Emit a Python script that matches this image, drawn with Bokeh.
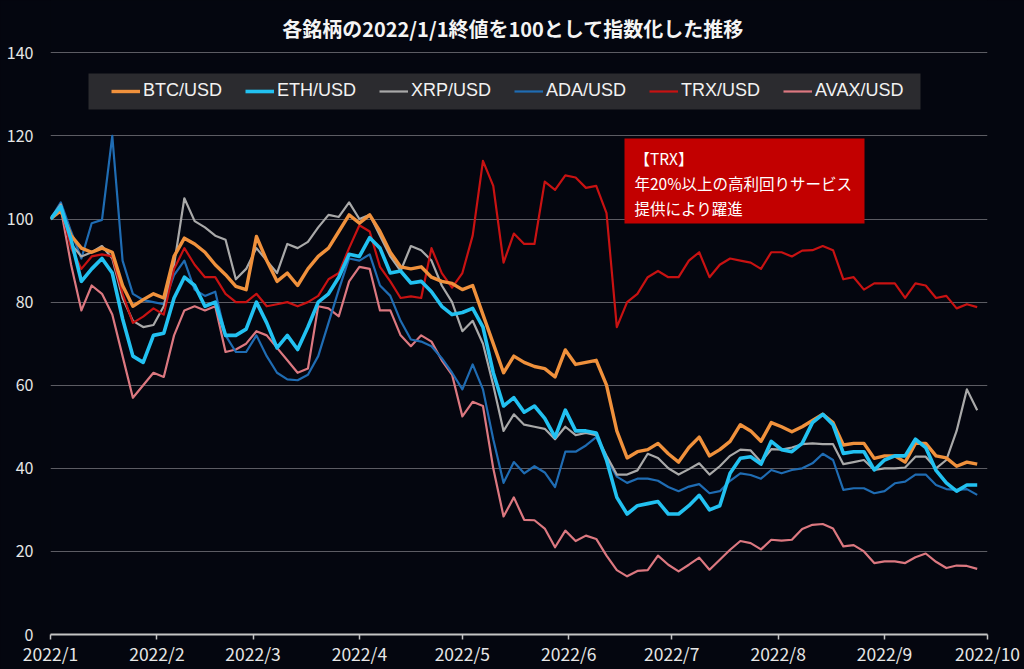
from datetime import datetime, timedelta

from bokeh.plotting import figure
from bokeh.models import (Range1d, FixedTicker, Legend, LegendItem, Label,
                          BoxAnnotation, GlobalInlineStyleSheet)
from bokeh.embed import file_html
from bokeh.resources import INLINE

# ---------------- data ----------------
start_date = datetime(2022, 1, 1)
end_date = datetime(2022, 10, 1)
step_days = 3
n_points = 91
dates = [start_date + timedelta(days=step_days * i) for i in range(n_points)]

btc = [100, 102, 96, 93, 92, 93, 92, 84, 79, 80.6,
       82, 81, 91, 95.4, 94, 92, 89, 86.6, 83.8, 83,
       95.8, 90, 85, 87, 84, 88, 91, 93, 97, 101,
       99, 101, 97, 92, 88.5, 88, 88.5, 86, 85, 84.5,
       83, 84, 77, 70, 63, 67, 65.5, 64.5, 64, 62,
       68.5, 65, 65.5, 66, 60, 49, 42.5, 44, 44.5, 46,
       43.5, 41.5, 45, 47.5, 43, 44.5, 46.5, 50.5, 49, 46.5,
       51, 50, 48.8, 50, 51.5, 53, 51, 45.6, 46, 46,
       42.4, 43, 43, 41.5, 46, 46, 43, 42.5, 40.5, 41.5,
       41]

eth = [100, 103, 95, 85, 88, 90.5, 87, 76, 67, 65.5,
       72, 72.5, 81, 86, 84, 79, 80, 72, 72, 73.5,
       80, 75, 69, 72, 68.6, 74, 80, 82, 86, 91.5,
       91, 95.5, 93, 87, 87.5, 84.6, 85, 82.5, 79, 77,
       77.5, 78.5, 74, 63, 55, 57, 53.5, 55, 52, 47.5,
       54, 49, 49, 48.5, 42, 33, 29, 31, 31.5, 32,
       29, 29, 31, 33.5, 30, 31, 38.8, 42.4, 42.8, 41,
       46.5, 44.5, 44, 46, 51, 53, 50.5, 43.6, 44, 44,
       39.6, 42, 43, 43, 47, 45, 39.5, 36.5, 34.5, 36,
       36]

xrp = [100, 103.5, 94, 91, 92, 93.5, 90.5, 81, 75.5, 74,
       74.5, 79, 89, 105, 99.5, 98, 96, 95, 85.5, 88,
       93, 90, 87, 94, 93, 94.5, 98, 101, 100.5, 104,
       100, 101, 96, 91, 87.5, 93.5, 92.5, 90, 84, 80,
       73, 75.5, 70, 60, 49, 53, 50.5, 50, 49.5, 47,
       50, 48, 48.5, 48, 43, 38.5, 38.5, 39.5, 43.5, 42.5,
       40, 38.5, 39.8, 41.2, 38.5, 40.5, 43, 44.5, 44.3, 41.5,
       44.6, 44.5, 45, 45.8, 46, 45.8, 45.8, 41, 41.5, 42,
       39.6, 40, 40, 40.2, 42.8, 42.8, 40, 42, 49, 59,
       54]

ada = [100, 104, 97, 90.5, 99, 99.8, 120, 90, 82, 80.5,
       80, 79.5, 86.5, 90, 83, 81.5, 82.5, 72, 68, 68,
       72, 67, 63, 61.4, 61.2, 62.5, 67, 75, 83, 90.5,
       90, 91.5, 84, 81.5, 75.5, 71, 70.5, 69.4, 66.5, 63,
       59, 65, 59, 47, 36.5, 41.5, 38.8, 40.5, 39, 35.5,
       44, 44, 45.5, 47.5, 42.5, 38, 36.5, 37.5, 37.5, 37,
       35.5, 34.5, 35.6, 36.2, 34, 34.5, 37, 38.8, 38.4, 37.5,
       39.6, 38.8, 39.6, 40, 41.2, 43.5, 42, 34.8, 35.2, 35.2,
       34, 34.5, 36.4, 36.8, 38.5, 38.5, 36, 35, 34.8, 35,
       33.6]

trx = [100, 103, 93, 88, 91, 91.5, 91, 82, 75, 76.5,
       78.5, 77, 88, 93, 89, 86, 86, 82, 80, 80,
       82, 79, 79.5, 80, 79, 80, 81.5, 85.5, 87, 93,
       98.5, 97, 88.5, 85, 81, 81.4, 81, 93, 87, 83.5,
       87, 96, 114, 108, 89.5, 96.5, 94, 94, 109, 107,
       110.5, 110, 107.5, 108, 101.4, 74, 80, 82, 86, 87.5,
       86, 86, 90, 92, 86, 89, 90.5, 90, 89.5, 88,
       92, 92, 91, 92.4, 92.5, 93.5, 92.5, 85.5, 86, 83,
       84.5, 84.5, 84.5, 81, 84.5, 84, 81, 81.5, 78.5, 79.5,
       78.8]

avax = [100, 102.5, 89, 78, 84, 82, 77, 67, 57, 60,
        63, 62, 72, 78, 79, 78, 79, 68, 68.6, 70,
        73, 72, 69, 66, 63, 64, 79, 78.5, 76.6, 85,
        88.5, 88, 78, 78, 72, 69.4, 72, 70.5, 66, 62.5,
        52.5, 56, 55, 40, 28.4, 33, 27.6, 27.5, 25.5, 21,
        25, 22.5, 23.8, 23, 19, 15.5, 14, 15.3, 15.5, 19,
        16.8, 15.2, 16.8, 18.5, 15.6, 18, 20.4, 22.5, 22, 20.5,
        22.8, 22.6, 22.8, 25.4, 26.4, 26.6, 25.5, 21.2, 21.5, 20,
        17.2, 17.6, 17.6, 17.2, 18.6, 19.5, 17.5, 16, 16.6, 16.5,
        15.8]

series_names = ["BTC/USD", "ETH/USD", "XRP/USD", "ADA/USD", "TRX/USD", "AVAX/USD"]
y_ticks = [0, 20, 40, 60, 80, 100, 120, 140]
month_starts = [datetime(2022, m, 1) for m in range(1, 11)]
month_labels = ["2022/1", "2022/2", "2022/3", "2022/4", "2022/5",
                "2022/6", "2022/7", "2022/8", "2022/9", "2022/10"]
title_text = "各銘柄の2022/1/1終値を100として指数化した推移"
note_lines = ["【TRX】", "年20%以上の高利回りサービス", "提供により躍進"]

# ---------------- style ----------------
BG = "#04060f"
COLORS = {"BTC/USD": "#f0913c", "ETH/USD": "#22c1f1", "XRP/USD": "#a9a9a9",
          "ADA/USD": "#1f6cb3", "TRX/USD": "#c81212", "AVAX/USD": "#dc7880"}
WIDTHS = {"BTC/USD": 3.4, "ETH/USD": 3.6, "XRP/USD": 2.2,
          "ADA/USD": 2.2, "TRX/USD": 2.2, "AVAX/USD": 2.2}
JP = "Noto Sans CJK JP"

epoch = datetime(1970, 1, 1)
def to_ms(d):
    return int((d - epoch).total_seconds() * 1000)

# frame spans the full height down to the x axis; 140 line sits ~52px from top
p = figure(width=1024, height=669, x_axis_type="datetime",
           x_range=Range1d(start_date, end_date), y_range=Range1d(0, 152.6),
           output_backend="svg", toolbar_location=None,
           background_fill_color=BG, border_fill_color=BG,
           min_border_left=50, min_border_right=37,
           min_border_top=0, min_border_bottom=35,
           outline_line_color=None)
p.stylesheets = [GlobalInlineStyleSheet(css="html, body { background: %s; }" % BG)]

# y axis
p.yaxis.ticker = FixedTicker(ticks=y_ticks)
p.yaxis.axis_line_color = None
p.yaxis.major_tick_line_color = None
p.yaxis.minor_tick_line_color = None
p.yaxis.major_tick_out = 0
p.yaxis.major_tick_in = 0
p.yaxis.major_label_standoff = 17
p.yaxis.major_label_text_font = JP
p.yaxis.major_label_text_font_size = "16px"
p.yaxis.major_label_text_color = "#e6e6e6"

# x axis
tick_ms = [to_ms(d) for d in month_starts]
p.xaxis.ticker = FixedTicker(ticks=tick_ms)
p.xaxis.major_label_overrides = {t: lab for t, lab in zip(tick_ms, month_labels)}
p.xaxis.axis_line_color = "#c4c4c4"
p.xaxis.axis_line_width = 2
p.xaxis.major_tick_line_color = "#c4c4c4"
p.xaxis.major_tick_line_width = 1.5
p.xaxis.major_tick_out = 5
p.xaxis.major_tick_in = 0
p.xaxis.minor_tick_line_color = None
p.xaxis.major_label_standoff = 1
p.xaxis.major_label_text_font = JP
p.xaxis.major_label_text_font_size = "17.5px"
p.xaxis.major_label_text_color = "#e6e6e6"

# grid
p.xgrid.grid_line_color = None
p.ygrid.ticker = FixedTicker(ticks=y_ticks[1:])
p.ygrid.grid_line_color = "#5c5c63"
p.ygrid.grid_line_width = 1

# lines
values = {"BTC/USD": btc, "ETH/USD": eth, "XRP/USD": xrp,
          "ADA/USD": ada, "TRX/USD": trx, "AVAX/USD": avax}
draw_order = ["AVAX/USD", "ADA/USD", "XRP/USD", "TRX/USD", "BTC/USD", "ETH/USD"]
renderers = {}
for name in draw_order:
    renderers[name] = p.line(dates, values[name], line_color=COLORS[name],
                             line_width=WIDTHS[name], line_join="round")

# legend background box (screen units relative to the frame's bottom-left)
p.add_layout(BoxAnnotation(left=38, right=870, top=561, bottom=525,
                           left_units="screen", right_units="screen",
                           top_units="screen", bottom_units="screen",
                           fill_color="#2b2b2f", fill_alpha=1.0, line_color=None))

legend = Legend(items=[LegendItem(label=n, renderers=[renderers[n]]) for n in series_names],
                orientation="horizontal", location=(61, 533),
                padding=0, margin=0, spacing=23,
                glyph_width=29, glyph_height=20, label_height=20, label_standoff=3,
                label_text_font="Liberation Sans", label_text_font_size="18px",
                label_text_color="#f2f2f2",
                background_fill_alpha=0, border_line_color=None)
p.add_layout(legend)

# TRX note
p.add_layout(BoxAnnotation(left=574, right=814, top=496, bottom=411,
                           left_units="screen", right_units="screen",
                           top_units="screen", bottom_units="screen",
                           fill_color="#c20000", fill_alpha=1.0, line_color=None))
for i, line in enumerate(note_lines):
    p.add_layout(Label(x=584, y=477 - 25 * i, x_units="screen", y_units="screen",
                       text=line, text_font=JP, text_font_size="15.5px",
                       text_color="#ffffff", text_align="left", text_baseline="middle"))

# title
p.add_layout(Label(x=462.5, y=606.5, x_units="screen", y_units="screen",
                   text=title_text, text_font=JP, text_font_size="20px",
                   text_font_style="bold", text_color="#f4f4f4",
                   text_align="center", text_baseline="middle"))

open("out.html", "w").write(file_html(p, INLINE))
